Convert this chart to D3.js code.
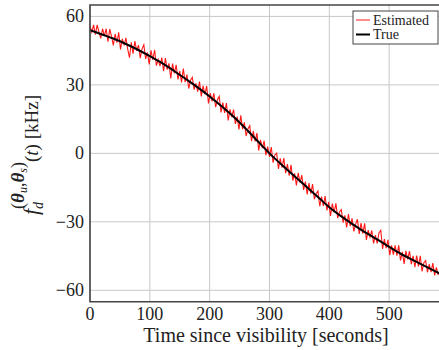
<!DOCTYPE html>
<html>
<head>
<meta charset="utf-8">
<script src="https://cdn.jsdelivr.net/npm/d3@7"></script>
<style>
  body { margin: 0; background: #fff; }
  svg text { font-family: "Liberation Serif", "Times New Roman", serif; fill: #222; }
</style>
</head>
<body>
<div id="chart"></div>
<script>
// true doppler curve, read every 20 s
var trueTime = [0, 20, 40, 60, 80, 100, 120, 140, 160, 180, 200, 220, 240, 260, 280,
  300, 320, 340, 360, 380, 400, 420, 440, 460, 480, 500, 520, 540, 560, 584];
var trueVal = [54.0, 52.1, 50.2, 47.9, 45.4, 42.6, 39.6, 36.2, 32.6, 28.9, 24.9, 20.6, 16.0, 10.9, 5.4,
  0.0, -4.9, -9.6, -14.2, -18.9, -23.6, -27.6, -31.2, -34.6, -37.7, -41.0, -44.1, -46.8, -49.4, -52.6];

// estimated (noisy) curve, one sample every 3 s starting at 0
var estStep = 3;
var estVal = [
  55.8, 53.1, 56.3, 52.0, 56.3, 53.1, 50.4, 54.6, 51.4, 54.6,
  48.9, 54.4, 51.3, 47.3, 52.3, 48.5, 53.0, 45.5, 50.2, 47.3,
  50.6, 45.7, 41.9, 48.6, 43.7, 49.2, 44.9, 47.4, 41.7, 45.8,
  47.6, 41.4, 44.2, 39.0, 45.1, 40.9, 45.3, 38.4, 41.1, 38.2,
  42.0, 36.0, 41.7, 36.7, 39.4, 32.8, 39.3, 35.0, 38.8, 32.4,
  36.0, 31.1, 37.1, 31.2, 34.5, 28.4, 32.0, 33.3, 27.9, 30.7,
  27.0, 31.4, 24.9, 29.6, 25.9, 29.5, 21.9, 26.4, 22.8, 26.3,
  20.2, 23.5, 25.0, 17.9, 22.2, 17.7, 22.0, 14.4, 19.3, 15.9,
  19.2, 12.9, 16.1, 10.5, 16.7, 10.6, 13.6, 7.6, 10.7, 12.2,
  5.3, 9.8, 5.2, 8.9, 1.3, 5.9, 2.3, 5.5, -0.8, 3.0,
  -1.6, 2.7, -4.1, -0.7, 0.1, -6.8, -2.2, -6.3, -2.1, -8.7,
  -4.7, -9.8, -5.0, -11.9, -8.8, -14.1, -8.5, -12.8, -9.5, -16.0,
  -12.4, -18.0, -13.0, -17.7, -13.5, -20.1, -17.6, -16.5, -23.2, -19.0,
  -23.0, -18.7, -25.0, -21.3, -27.4, -22.0, -25.9, -21.9, -28.4, -25.7,
  -24.7, -30.3, -27.2, -32.5, -26.6, -31.9, -28.5, -34.2, -31.0, -28.9,
  -35.3, -30.6, -35.2, -30.7, -37.9, -33.6, -36.7, -33.8, -39.5, -35.8,
  -39.5, -34.9, -33.7, -41.9, -37.6, -41.5, -37.9, -44.6, -40.3, -44.4,
  -40.3, -44.8, -40.3, -46.9, -43.2, -48.4, -42.7, -46.5, -42.8, -48.6,
  -44.9, -49.9, -44.8, -49.5, -44.9, -51.7, -47.9, -47.0, -52.1, -48.5,
  -52.0, -48.1, -53.5, -50.0, -53.4
];
var estTime = d3.range(estVal.length).map(function(i) { return i * estStep; });

var xTicks = [0, 100, 200, 300, 400, 500];
var yTicks = [-60, -30, 0, 30, 60];
var legendLabels = ["Estimated", "True"];

var width = 439, height = 350;
var pLeft = 90, pRight = 440, pTop = 5, pBottom = 301.7;

var svg = d3.select("#chart").append("svg")
  .attr("width", width)
  .attr("height", height)
  .attr("font-family", "Liberation Serif, Times New Roman, serif");

var x = d3.scaleLinear().domain([0, 585]).range([pLeft, pRight]);
var y = d3.scaleLinear().domain([-65, 65]).range([pBottom, pTop]);

// grid
svg.append("g").selectAll("line")
  .data(xTicks).enter().append("line")
  .attr("x1", function(d) { return x(d); }).attr("x2", function(d) { return x(d); })
  .attr("y1", pTop).attr("y2", pBottom)
  .attr("stroke", "#c8c8c8").attr("stroke-width", 1);
svg.append("g").selectAll("line")
  .data(yTicks).enter().append("line")
  .attr("x1", pLeft).attr("x2", pRight)
  .attr("y1", function(d) { return y(d); }).attr("y2", function(d) { return y(d); })
  .attr("stroke", "#c8c8c8").attr("stroke-width", 1);

// lines
var estLine = d3.line()
  .x(function(d, i) { return x(estTime[i]); })
  .y(function(d) { return y(d); });
svg.append("path")
  .datum(estVal)
  .attr("d", estLine)
  .attr("fill", "none")
  .attr("stroke", "#ff1a1a")
  .attr("stroke-width", 1.1);

var trueLine = d3.line()
  .x(function(d, i) { return x(trueTime[i]); })
  .y(function(d) { return y(d); })
  .curve(d3.curveMonotoneX);
svg.append("path")
  .datum(trueVal)
  .attr("d", trueLine)
  .attr("fill", "none")
  .attr("stroke", "#000")
  .attr("stroke-width", 2);

// frame
svg.append("path")
  .attr("d", "M" + pRight + "," + pTop + "H" + pLeft + "V" + pBottom + "H" + pRight)
  .attr("fill", "none")
  .attr("stroke", "#444")
  .attr("stroke-width", 1.6);

// tick labels
svg.append("g").selectAll("text")
  .data(xTicks).enter().append("text")
  .attr("x", function(d) { return x(d); })
  .attr("y", 320)
  .attr("text-anchor", "middle")
  .style("font-size", "18px")
  .text(function(d) { return d; });
svg.append("g").selectAll("text")
  .data(yTicks).enter().append("text")
  .attr("x", 84)
  .attr("y", function(d) { return y(d) + 6; })
  .attr("text-anchor", "end")
  .style("font-size", "18px")
  .text(function(d) { return d < 0 ? "\u2212" + Math.abs(d) : d; });

// axis titles
svg.append("text")
  .attr("x", 266)
  .attr("y", 342)
  .attr("text-anchor", "middle")
  .style("font-size", "20px")
  .text("Time since visibility [seconds]");

var yl = svg.append("text")
  .attr("transform", "translate(38,155) rotate(-90)")
  .attr("text-anchor", "middle")
  .style("font-size", "19px");
yl.append("tspan").style("font-style", "italic").style("font-size", "22px").text("f");
yl.append("tspan").attr("dy", 5).style("font-style", "italic").style("font-size", "14px").text("d");
yl.append("tspan").attr("dx", -7).attr("dy", -19).style("font-size", "18px").text("(");
yl.append("tspan").style("font-size", "19px").style("font-weight", "bold").style("font-style", "italic").text("\u03b8");
yl.append("tspan").attr("dy", 3).style("font-size", "12px").style("font-style", "italic").text("u");
yl.append("tspan").attr("dy", -3).style("font-size", "18px").text(",");
yl.append("tspan").style("font-size", "19px").style("font-weight", "bold").style("font-style", "italic").text("\u03b8");
yl.append("tspan").attr("dy", 3).style("font-size", "12px").style("font-style", "italic").text("s");
yl.append("tspan").attr("dy", -3).style("font-size", "18px").text(")");
yl.append("tspan").attr("dy", 14).text("(");
yl.append("tspan").style("font-style", "italic").text("t");
yl.append("tspan").text(") [kHz]");

// legend
var lg = svg.append("g");
lg.append("rect")
  .attr("x", 353).attr("y", 11).attr("width", 85).attr("height", 33)
  .attr("fill", "#fff").attr("stroke", "#444").attr("stroke-width", 1);
var legendColors = ["#ff1a1a", "#000"];
var legendWidths = [1, 2];
lg.selectAll("line.k")
  .data(legendLabels).enter().append("line")
  .attr("x1", 356).attr("x2", 370)
  .attr("y1", function(d, i) { return 20 + i * 14.5; })
  .attr("y2", function(d, i) { return 20 + i * 14.5; })
  .attr("stroke", function(d, i) { return legendColors[i]; })
  .attr("stroke-width", function(d, i) { return legendWidths[i]; });
lg.selectAll("text")
  .data(legendLabels).enter().append("text")
  .attr("x", 373)
  .attr("y", function(d, i) { return 24.5 + i * 14.5; })
  .style("font-size", "14px")
  .text(function(d) { return d; });
</script>
</body>
</html>
